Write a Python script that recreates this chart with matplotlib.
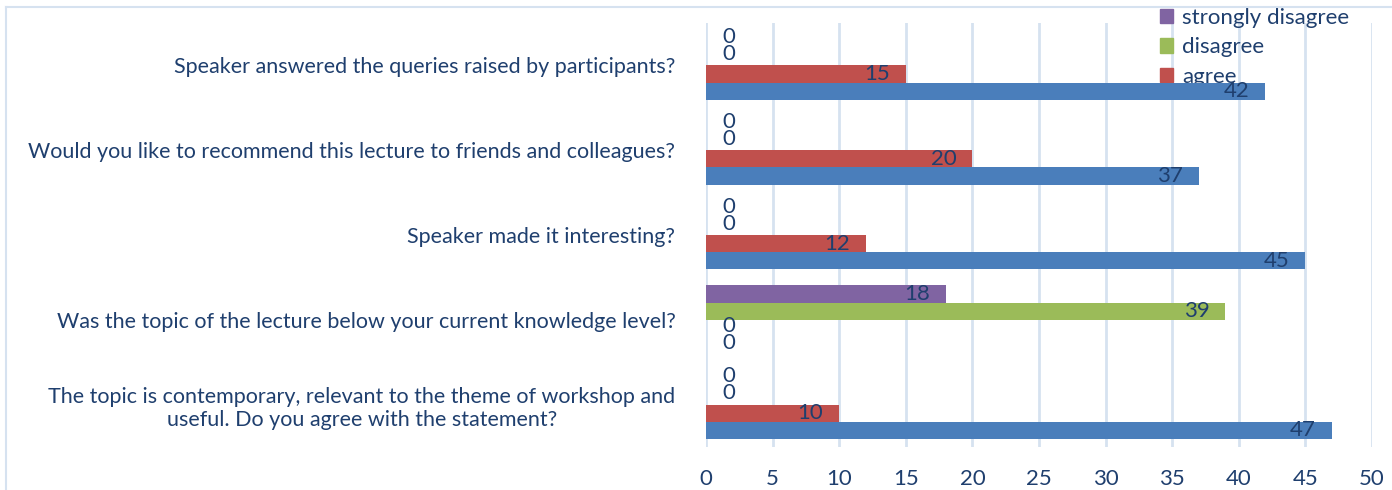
import numpy as np
import matplotlib
matplotlib.use("Agg")
import matplotlib.pyplot as plt
import matplotlib.patches as mpatches

plt.rcParams['font.family'] = ['Lato', 'DejaVu Sans']

# survey questions, bottom to top
questions = [
    "The topic is contemporary, relevant to the theme of workshop and\nuseful. Do you agree with the statement?",
    "Was the topic of the lecture below your current knowledge level?",
    "Speaker made it interesting?",
    "Would you like to recommend this lecture to friends and colleagues?",
    "Speaker answered the queries raised by participants?",
]
strongly_agree = [47, 0, 45, 37, 42]
agree = [10, 0, 12, 20, 15]
disagree = [0, 39, 0, 0, 0]
strongly_disagree = [0, 18, 0, 0, 0]
x_ticks = [0, 5, 10, 15, 20, 25, 30, 35, 40, 45, 50]

text_col = '#1F3F6E'
grid_col = '#D6E2F0'
series = [
    ('strongly agree', strongly_agree, '#4A7EBB'),
    ('agree', agree, '#C0504D'),
    ('disagree', disagree, '#9BBB59'),
    ('strongly disagree', strongly_disagree, '#8064A2'),
]
fs = 15.5

fig = plt.figure(figsize=(13.92, 4.90), dpi=100)
ax = fig.add_axes([706/1392, 1 - 447/490, 666/1392, 424/490])

# thin outer chart border (top and left only visible)
fig.add_artist(plt.Line2D([6/1392, 1], [1 - 7/490, 1 - 7/490], color=grid_col, lw=1.5))
fig.add_artist(plt.Line2D([6/1392, 6/1392], [0, 1 - 7/490], color=grid_col, lw=1.5))

y = np.arange(len(questions))
h = 0.203
for k, (name, vals, col) in enumerate(series):
    pos = y - (1.5 - k) * h
    ax.barh(pos, vals, height=h, color=col, zorder=3)
    for p, v in zip(pos, vals):
        if v > 0:
            ax.annotate(str(v), (v, p), xytext=(-16, 0), textcoords='offset pixels',
                        ha='right', va='center', color=text_col, fontsize=16, zorder=4)
        else:
            ax.annotate(str(v), (0, p + 0.03), xytext=(16, 0), textcoords='offset pixels',
                        ha='left', va='center', color=text_col, fontsize=16, zorder=4)

ax.set_xlim(0, 50)
ax.set_ylim(-0.5, 4.5)
ax.set_xticks(x_ticks)
ax.set_yticks(y)
ax.set_yticklabels(questions, multialignment='center')
ax.tick_params(axis='y', length=0, pad=22, labelsize=fs, labelcolor=text_col)
ax.tick_params(axis='x', length=0, pad=16, labelsize=16, labelcolor=text_col)
ax.grid(axis='x', color=grid_col, lw=2, zorder=0)
ax.set_axisbelow(True)
for s in ax.spines.values():
    s.set_visible(False)

handles = [mpatches.Patch(color=c, label=n) for n, _, c in series[:0:-1]]
leg = ax.legend(handles=handles, loc='upper left', bbox_to_anchor=(1160/1392, 1 - 8/490),
                bbox_transform=fig.transFigure, frameon=False, fontsize=16,
                handlelength=0.6, handleheight=0.6, handletextpad=0.4,
                labelspacing=0.42, borderpad=0, borderaxespad=0)
for t in leg.get_texts():
    t.set_color(text_col)
leg.set_zorder(2)

fig.savefig('out.png', dpi=100)
